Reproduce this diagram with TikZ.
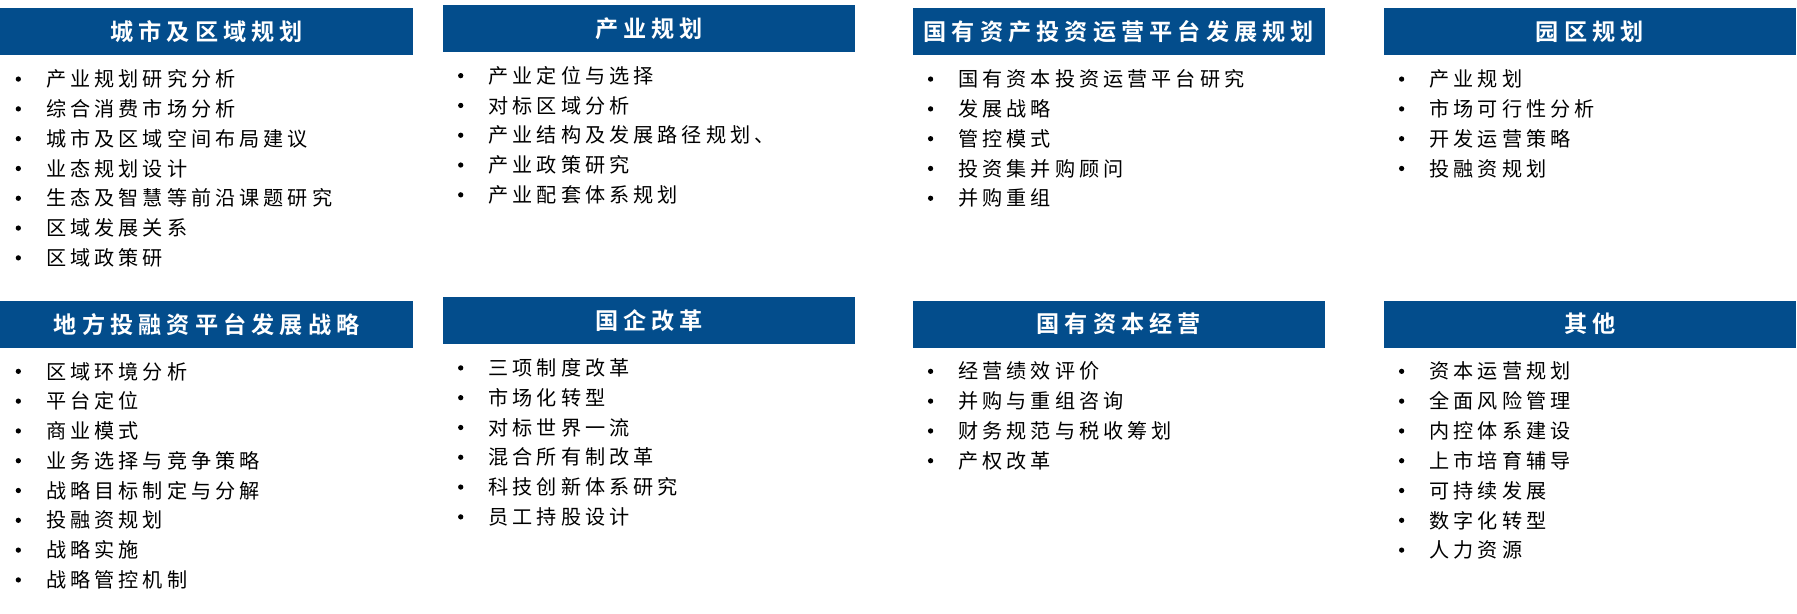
\documentclass[tikz,border=0pt]{standalone}
\usepackage{fontspec}
\newfontfamily\cjk[LetterSpace=20]{Noto Sans CJK SC}
\newfontfamily\cjkb[LetterSpace=22,BoldFont={Noto Sans CJK SC Bold}]{Noto Sans CJK SC}
\definecolor{hdr}{HTML}{034D8C}
\begin{document}
\begin{tikzpicture}[x=0.02cm,y=-0.02cm,
  hdrbox/.style={fill=hdr,draw=none,inner sep=0,minimum width=7.2cm,minimum height=0.82cm,text=white,font=\cjkb\fontsize{11.5pt}{13pt}\selectfont\bfseries},
  item/.style={anchor=west,inner sep=0,font=\cjk\fontsize{10pt}{12pt}\selectfont}]
\useasboundingbox (0,0) rectangle (1568,535);
\newcommand\blk[5]{% name, left x, title top y, title, items
  \node[hdrbox,anchor=north west] (#1) at (#2,#3) {#4};
  \foreach \t [count=\i] in {#5} {
    \fill ({#2+16},{#3+64+(\i-1)*26-2}) circle (2.3);
    \node[item] (#1-\i) at ({#2+40},{#3+64+(\i-1)*26-2}) {\t};
  }
}
\blk{a}{0}{7}{城市及区域规划}{产业规划研究分析,综合消费市场分析,城市及区域空间布局建议,业态规划设计,生态及智慧等前沿课题研究,区域发展关系,区域政策研}
\blk{b}{386}{4}{产业规划}{产业定位与选择,对标区域分析,产业结构及发展路径规划、,产业政策研究,产业配套体系规划}
\blk{c}{796}{7}{国有资产投资运营平台发展规划}{国有资本投资运营平台研究,发展战略,管控模式,投资集并购顾问,并购重组}
\blk{d}{1207}{7}{园区规划}{产业规划,市场可行性分析,开发运营策略,投融资规划}
\blk{e}{0}{262}{地方投融资平台发展战略}{区域环境分析,平台定位,商业模式,业务选择与竞争策略,战略目标制定与分解,投融资规划,战略实施,战略管控机制}
\blk{f}{386}{259}{国企改革}{三项制度改革,市场化转型,对标世界一流,混合所有制改革,科技创新体系研究,员工持股设计}
\blk{g}{796}{262}{国有资本经营}{经营绩效评价,并购与重组咨询,财务规范与税收筹划,产权改革}
\blk{h}{1207}{262}{其他}{资本运营规划,全面风险管理,内控体系建设,上市培育辅导,可持续发展,数字化转型,人力资源}
\end{tikzpicture}
\end{document}
